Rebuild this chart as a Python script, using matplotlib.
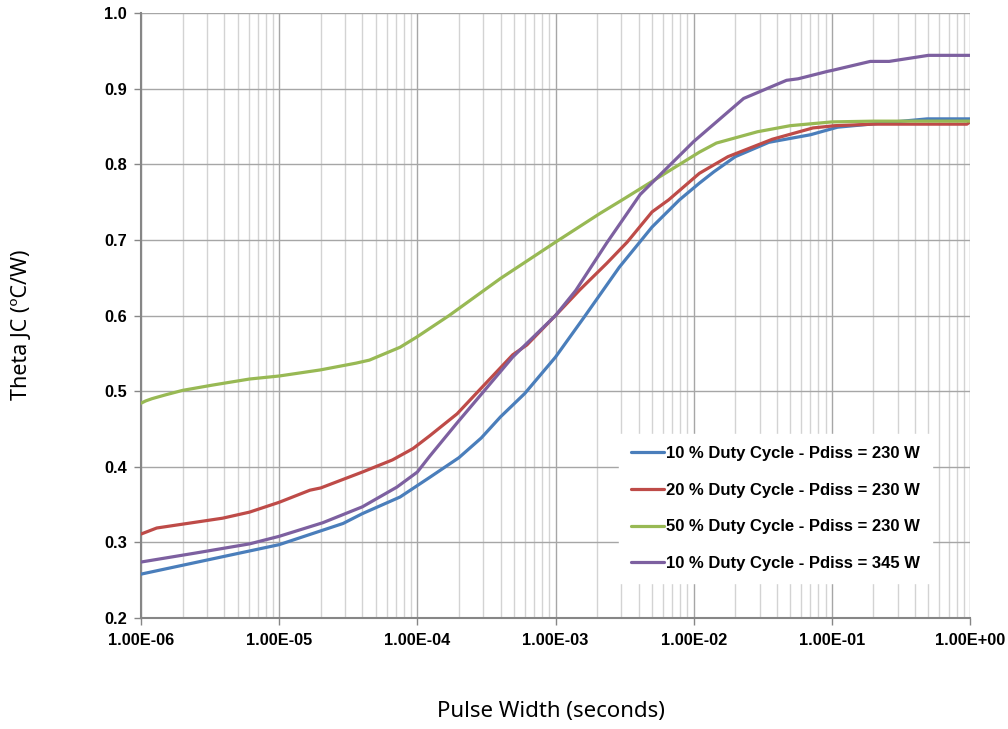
import matplotlib

matplotlib.use("Agg")
import matplotlib.pyplot as plt
from matplotlib.ticker import FixedLocator, FuncFormatter, LogLocator, MultipleLocator, NullFormatter

# ---- data (pulse width in seconds, Theta JC in degC/W)
x_blue = [1e-6, 1e-5, 2.9e-5, 4e-5, 7.5e-5, 1.23e-4, 2e-4, 2.9e-4, 4e-4, 6e-4, 1e-3,
          1.6e-3, 2.9e-3, 5e-3, 7.9e-3, 1.1e-2, 1.4e-2, 2e-2, 3.5e-2, 7e-2, 1.1e-1,
          4.9e-1, 1.0]
y_blue = [0.258, 0.297, 0.325, 0.338, 0.360, 0.386, 0.412, 0.438, 0.466, 0.497, 0.545,
          0.597, 0.664, 0.717, 0.753, 0.775, 0.790, 0.810, 0.829, 0.839, 0.849,
          0.860, 0.860]

x_red = [1e-6, 1.3e-6, 3.9e-6, 6.1e-6, 1e-5, 1.67e-5, 2e-5, 4e-5, 6.6e-5, 9.3e-5,
         1.23e-4, 1.94e-4, 2.8e-4, 4.9e-4, 6.2e-4, 1e-3, 1.5e-3, 2.35e-3, 3.3e-3,
         5e-3, 6.6e-3, 1.1e-2, 1.77e-2, 3.7e-2, 7.3e-2, 1.05e-1, 0.2, 0.95, 1.0]
y_red = [0.311, 0.319, 0.332, 0.340, 0.353, 0.369, 0.372, 0.393, 0.409, 0.424,
         0.441, 0.470, 0.501, 0.548, 0.561, 0.600, 0.634, 0.669, 0.697,
         0.737, 0.753, 0.788, 0.810, 0.833, 0.848, 0.851, 0.853, 0.853, 0.856]

x_green = [1e-6, 1.08e-6, 1.2e-6, 1.5e-6, 2e-6, 3.3e-6, 6.1e-6, 1e-5, 1.98e-5, 3.6e-5,
           4.5e-5, 7.5e-5, 1e-4, 1.7e-4, 4e-4, 1e-3, 2.1e-3, 3.05e-3, 1.1e-2, 1.46e-2,
           2.9e-2, 5e-2, 1e-1, 0.2, 1.0]
y_green = [0.484, 0.487, 0.490, 0.495, 0.501, 0.508, 0.516, 0.520, 0.528, 0.537,
           0.541, 0.558, 0.572, 0.600, 0.649, 0.697, 0.735, 0.753, 0.816, 0.828,
           0.843, 0.851, 0.856, 0.857, 0.857]

x_purple = [1e-6, 2.5e-6, 6.1e-6, 1e-5, 2.07e-5, 4e-5, 5.1e-5, 7.1e-5, 1e-4, 1.23e-4,
            1.94e-4, 4.9e-4, 1e-3, 1.4e-3, 2.35e-3, 4.1e-3, 1e-2, 2.3e-2, 4.7e-2,
            5.7e-2, 9.4e-2, 1e-1, 0.19, 0.26, 0.5, 1.0]
y_purple = [0.274, 0.286, 0.298, 0.308, 0.326, 0.347, 0.358, 0.373, 0.393, 0.414,
            0.458, 0.545, 0.600, 0.633, 0.696, 0.760, 0.830, 0.887, 0.911,
            0.913, 0.923, 0.924, 0.936, 0.936, 0.944, 0.944]

X_TICKS = [1e-6, 1e-5, 1e-4, 1e-3, 1e-2, 1e-1, 1.0]

SERIES = [
    (x_blue, y_blue, "#4a7ebb", "10 % Duty Cycle - Pdiss = 230 W"),
    (x_red, y_red, "#be4b48", "20 % Duty Cycle - Pdiss = 230 W"),
    (x_green, y_green, "#98b954", "50 % Duty Cycle - Pdiss = 230 W"),
    (x_purple, y_purple, "#7d60a0", "10 % Duty Cycle - Pdiss = 345 W"),
]

fig = plt.figure(figsize=(10.08, 7.29), dpi=100)
ax = fig.add_axes([141 / 1008, 1 - 618 / 729, (970 - 141) / 1008, (618 - 13) / 729])

handles = []
for xs, ys, col, lab in SERIES:
    h, = ax.plot(xs, ys, color=col, lw=2.3, label=lab, solid_capstyle="round", zorder=3)
    handles.append(h)

ax.set_xscale("log")
ax.set_xlim(1e-6, 1.0)
ax.set_ylim(0.2, 1.0)
ax.yaxis.set_major_locator(MultipleLocator(0.1))
ax.xaxis.set_major_locator(FixedLocator(X_TICKS))
ax.xaxis.set_minor_locator(LogLocator(base=10, subs=range(2, 10), numticks=20))
ax.xaxis.set_minor_formatter(NullFormatter())
ax.xaxis.set_major_formatter(FuncFormatter(lambda v, _: f"{v:.2E}"))
ax.yaxis.set_major_formatter(FuncFormatter(lambda v, _: f"{v:.1f}"))

ax.grid(which="major", axis="both", color="#a6a6a6", lw=1.0, zorder=0)
ax.grid(which="minor", axis="x", color="#d3d3d3", lw=1.0, zorder=0)
ax.set_axisbelow(True)

for s in ("top", "right"):
    ax.spines[s].set_visible(False)
for s in ("left", "bottom"):
    ax.spines[s].set_color("#868686")
    ax.spines[s].set_linewidth(1.5)

ax.tick_params(which="major", direction="out", length=5, color="#868686", width=1, pad=5)
ax.tick_params(which="minor", length=0)
ax.tick_params(axis="x", pad=6)
for lbl in ax.get_xticklabels() + ax.get_yticklabels():
    lbl.set_fontfamily("Liberation Sans")
    lbl.set_fontweight("bold")
    lbl.set_fontsize(11.8)

fig.text(22 / 1008, 1 - 325 / 729, "Theta JC (\u00baC/W)", rotation=90, ha="center",
         va="center", fontsize=15.5, family="Noto Sans")
fig.text(551 / 1008, 1 - 712 / 729, "Pulse Width (seconds)", ha="center", va="center",
         fontsize=16, family="Noto Sans")

leg = ax.legend(handles=handles, loc="upper left",
                bbox_to_anchor=(611 / 1008, 1 - 426 / 729), bbox_transform=fig.transFigure,
                frameon=True, fancybox=False, edgecolor="white", facecolor="white",
                framealpha=1.0, handlelength=2.0, handletextpad=0.1, labelspacing=1.3,
                borderpad=0.7, prop={"family": "Liberation Sans", "weight": "bold", "size": 12})
leg.set_zorder(5)

fig.savefig("out.png", dpi=100)
